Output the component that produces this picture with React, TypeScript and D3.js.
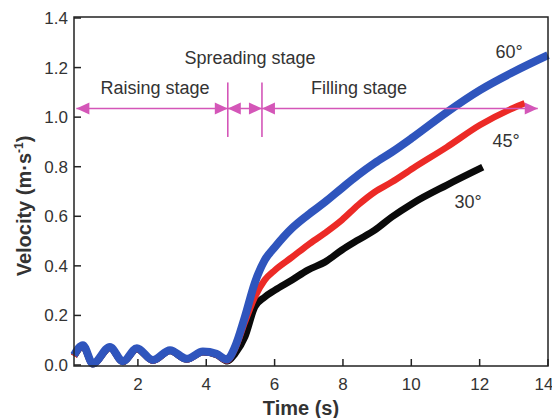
import React from "react";
import * as d3 from "d3";

const W = 552;
const H = 418;

// Time (s) / Velocity (m/s)
const t60 = [0.13, 0.39, 0.68, 1.18, 1.56, 1.97, 2.44, 2.94, 3.43, 3.9, 4.3, 4.6, 4.84, 5.13, 5.42, 5.71, 6.01, 6.51, 6.97, 7.47, 7.97, 8.44, 8.93, 9.43, 10.05, 11.04, 12.01, 12.97, 14.0];
const v60 = [0.04, 0.08, 0.006, 0.073, 0.015, 0.068, 0.02, 0.06, 0.025, 0.054, 0.045, 0.022, 0.073, 0.194, 0.331, 0.423, 0.476, 0.552, 0.605, 0.657, 0.714, 0.766, 0.815, 0.859, 0.919, 1.02, 1.109, 1.181, 1.25];

const t45 = [0.13, 0.39, 0.68, 1.18, 1.56, 1.97, 2.44, 2.94, 3.43, 3.9, 4.3, 4.6, 4.84, 5.13, 5.42, 5.71, 6.01, 6.51, 6.97, 7.47, 7.97, 8.44, 8.93, 9.43, 10.05, 11.04, 12.01, 12.97, 13.32];
const v45 = [0.036, 0.076, 0.004, 0.07, 0.013, 0.065, 0.018, 0.057, 0.023, 0.052, 0.042, 0.018, 0.065, 0.173, 0.274, 0.343, 0.383, 0.435, 0.484, 0.532, 0.585, 0.645, 0.698, 0.738, 0.794, 0.879, 0.968, 1.036, 1.056];

const t30 = [0.13, 0.39, 0.68, 1.18, 1.56, 1.97, 2.44, 2.94, 3.43, 3.9, 4.3, 4.62, 4.84, 5.13, 5.42, 5.71, 6.01, 6.51, 6.97, 7.47, 7.97, 8.44, 8.93, 9.43, 10.05, 11.04, 12.09];
const v30 = [0.036, 0.076, 0.004, 0.07, 0.013, 0.065, 0.018, 0.057, 0.023, 0.052, 0.042, 0.016, 0.045, 0.113, 0.234, 0.274, 0.302, 0.343, 0.383, 0.415, 0.464, 0.504, 0.544, 0.597, 0.653, 0.726, 0.798];

const xTicks = [2, 4, 6, 8, 10, 12, 14];
const yTicks = [0.0, 0.2, 0.4, 0.6, 0.8, 1.0, 1.2, 1.4];

// stage boundaries (s) and arrow level (m/s)
const stageBounds = [0.2, 4.63, 5.63, 13.7];
const arrowLevel = 1.035;
const stageLabels = ["Raising stage", "Spreading stage", "Filling stage"];
const angleLabels = ["60°", "45°", "30°"];

const FONT = "'Liberation Sans', Arial, Helvetica, sans-serif";
const TXT = "#333";
const PINK = "#d456b8";

export default function App() {
  const left = 74, right = 548, top = 17, bottom = 366;
  const x = d3.scaleLinear().domain([0.13, 14]).range([left, right]);
  const y = d3.scaleLinear().domain([0, 1.4]).range([365, 18]);

  const line = d3
    .line<[number, number]>()
    .x((d) => x(d[0]))
    .y((d) => y(d[1]))
    .curve(d3.curveMonotoneX);

  const series = [
    { t: t30, v: v30, color: "#0a0a0a", w: 7 },
    { t: t45, v: v45, color: "#ec2a26", w: 6.5 },
    { t: t60, v: v60, color: "#2f55bd", w: 8 },
  ];

  const ay = y(arrowLevel);
  const head = (tip: number, dir: number) => {
    const len = 13, hh = 6;
    return `M${tip},${ay} L${tip - dir * len},${ay - hh} L${tip - dir * len},${ay + hh} Z`;
  };
  const bx = stageBounds.map((b) => x(b));

  return (
    <svg width={W} height={H} style={{ position: "absolute", left: 0, top: 0, background: "#fff" }} fontFamily={FONT}>
      <rect x={0} y={0} width={W} height={H} fill="#fff" />
      {series.map((s, i) => (
        <path
          key={i}
          d={line(s.t.map((tt, j) => [tt, s.v[j]] as [number, number])) || ""}
          fill="none"
          stroke={s.color}
          strokeWidth={s.w}
          strokeLinejoin="round"
        />
      ))}

      {/* frame */}
      <rect x={left} y={top} width={right - left} height={bottom - top} fill="none" stroke="#222" strokeWidth={1.5} />
      {xTicks.map((v) => (
        <g key={`x${v}`}>
          <line x1={x(v)} x2={x(v)} y1={bottom} y2={bottom - 7} stroke="#222" strokeWidth={1.5} />
          <text x={v === 14 ? x(v) - 4 : x(v)} y={390} textAnchor="middle" fontSize={17} fill={TXT}>{v}</text>
        </g>
      ))}
      {yTicks.map((v) => (
        <g key={`y${v}`}>
          <line x1={left} x2={left + 7} y1={y(v)} y2={y(v)} stroke="#222" strokeWidth={1.5} />
          <text x={68} y={y(v) + 6} textAnchor="end" fontSize={17} fill={TXT}>{v.toFixed(1)}</text>
        </g>
      ))}
      <text x={301} y={415} textAnchor="middle" fontSize={20} fontWeight="bold" fill={TXT}>Time (s)</text>
      <text transform="translate(31,206) rotate(-90)" textAnchor="middle" fontSize={20} fontWeight="bold" fill={TXT}>
        Velocity (m·s<tspan fontSize={12} dy={-8}>-1</tspan><tspan dy={8}>)</tspan>
      </text>

      {/* stage arrows */}
      <line x1={bx[0]} x2={bx[3]} y1={ay} y2={ay} stroke={PINK} strokeWidth={1.6} />
      <path d={head(bx[0], -1)} fill={PINK} />
      <path d={head(bx[1], 1)} fill={PINK} />
      <path d={head(bx[1], -1)} fill={PINK} />
      <path d={head(bx[2], 1)} fill={PINK} />
      <path d={head(bx[2], -1)} fill={PINK} />
      <path d={head(bx[3], 1)} fill={PINK} />
      <line x1={bx[1]} x2={bx[1]} y1={y(1.14)} y2={y(0.92)} stroke={PINK} strokeWidth={1.6} />
      <line x1={bx[2]} x2={bx[2]} y1={y(1.14)} y2={y(0.92)} stroke={PINK} strokeWidth={1.6} />
      <text x={155} y={94} textAnchor="middle" fontSize={18} fill={TXT}>{stageLabels[0]}</text>
      <text x={250} y={64} textAnchor="middle" fontSize={18} fill={TXT}>{stageLabels[1]}</text>
      <text x={359} y={94} textAnchor="middle" fontSize={18} fill={TXT}>{stageLabels[2]}</text>
      <text x={509} y={58} textAnchor="middle" fontSize={18} fill={TXT}>{angleLabels[0]}</text>
      <text x={506} y={147} textAnchor="middle" fontSize={18} fill={TXT}>{angleLabels[1]}</text>
      <text x={468} y={208} textAnchor="middle" fontSize={18} fill={TXT}>{angleLabels[2]}</text>
    </svg>
  );
}
